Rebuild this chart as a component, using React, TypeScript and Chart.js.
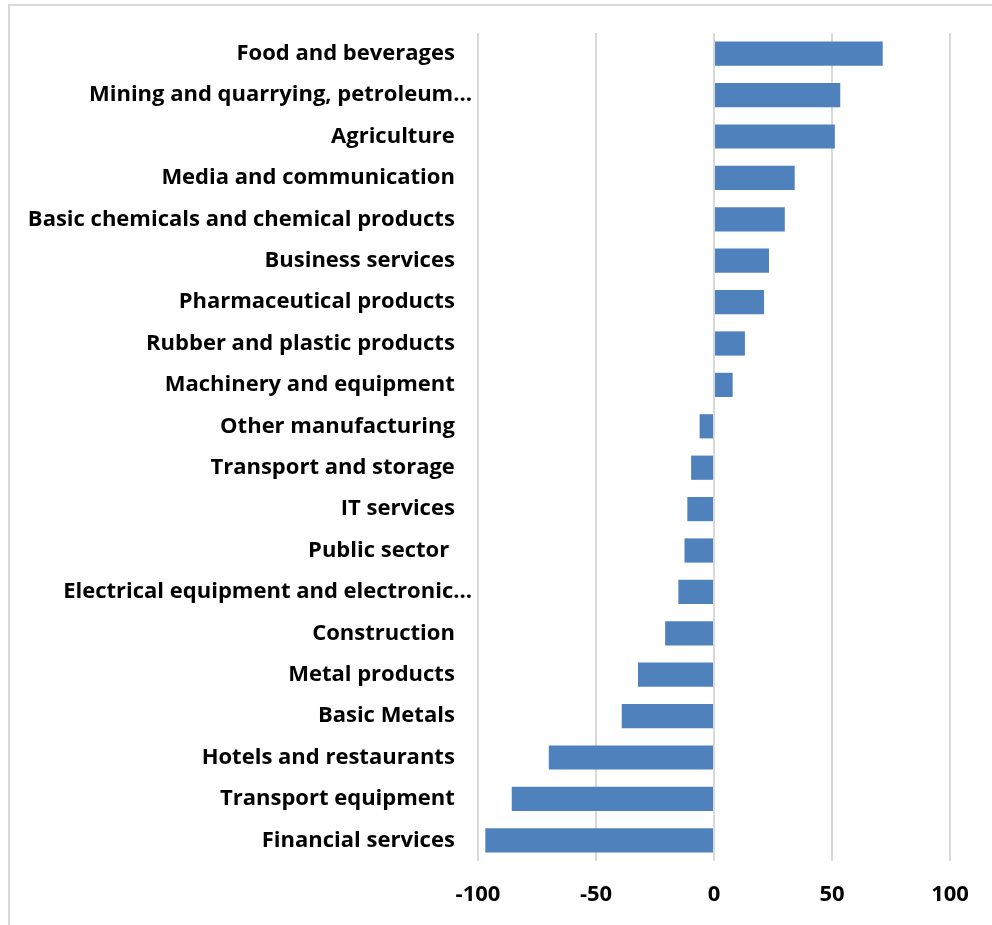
import React, { useEffect, useRef } from "react";
import { Chart, registerables } from "chart.js";

Chart.register(...registerables);

const categories: string[] = [
  "Food and beverages",
  "Mining and quarrying, petroleum…",
  "Agriculture",
  "Media and communication",
  "Basic chemicals and chemical products",
  "Business services",
  "Pharmaceutical products",
  "Rubber and plastic products",
  "Machinery and equipment",
  "Other manufacturing",
  "Transport and storage",
  "IT services",
  "Public sector ",
  "Electrical equipment and electronic…",
  "Construction",
  "Metal products",
  "Basic Metals",
  "Hotels and restaurants",
  "Transport equipment",
  "Financial services",
];

const values: number[] = [
  71.5, 53.5, 51.2, 34.2, 30.0, 23.3, 21.2, 13.1, 7.9, -6.1,
  -9.7, -11.3, -12.5, -15.1, -20.7, -32.2, -39.1, -70.0, -85.7, -96.9,
];

const xTicks: number[] = [-100, -50, 0, 50, 100];

const FONT = "'Open Sans', Lato, sans-serif";

export default function App() {
  const ref = useRef<HTMLCanvasElement>(null);

  useEffect(() => {
    if (!ref.current) return;
    const chart = new Chart(ref.current, {
      type: "bar",
      data: {
        labels: categories,
        datasets: [
          {
            data: values,
            backgroundColor: "#4F81BD",
            borderWidth: 0,
            barPercentage: 0.585,
            categoryPercentage: 1,
          },
        ],
      },
      options: {
        indexAxis: "y",
        animation: false,
        responsive: false,
        maintainAspectRatio: false,
        layout: { padding: { top: 33, right: 42, bottom: 17, left: 0 } },
        plugins: {
          legend: { display: false },
          tooltip: { enabled: false },
        },
        scales: {
          x: {
            min: xTicks[0],
            max: xTicks[xTicks.length - 1],
            afterBuildTicks: (scale: any) => {
              scale.ticks = xTicks.map((v) => ({ value: v }));
            },
            afterFit: (scale: any) => {
              scale.height = 47;
            },
            grid: {
              color: "#d9d9d9",
              lineWidth: 2,
              drawTicks: false,
            },
            border: { display: false },
            ticks: {
              padding: 21,
              color: "#000",
              font: { family: FONT, size: 22, weight: "bold" },
            },
          },
          y: {
            afterFit: (scale: any) => {
              scale.width = 478;
            },
            grid: { display: false, drawTicks: false },
            border: { display: false },
            ticks: {
              padding: 6,
              color: "#000",
              autoSkip: false,
              font: { family: FONT, size: 22, weight: "bold" },
              callback: function (this: any, val: any) {
                const s: string = this.getLabelForValue(val);
                return s.endsWith("…") ? s : s + "   ";
              },
            },
          },
        },
      },
    });
    return () => chart.destroy();
  }, []);

  return (
    <div
      style={{
        position: "fixed",
        left: 0,
        top: 0,
        width: 992,
        height: 925,
        overflow: "hidden",
        background: "#fff",
      }}
    >
      <div
        style={{
          position: "absolute",
          left: 8,
          top: 4,
          width: 1100,
          height: 1100,
          borderTop: "2px solid #d9d9d9",
          borderLeft: "2px solid #d9d9d9",
        }}
      />
      <canvas
        ref={ref}
        width={992}
        height={925}
        style={{ position: "absolute", left: 0, top: 0, width: 992, height: 925 }}
      />
    </div>
  );
}
